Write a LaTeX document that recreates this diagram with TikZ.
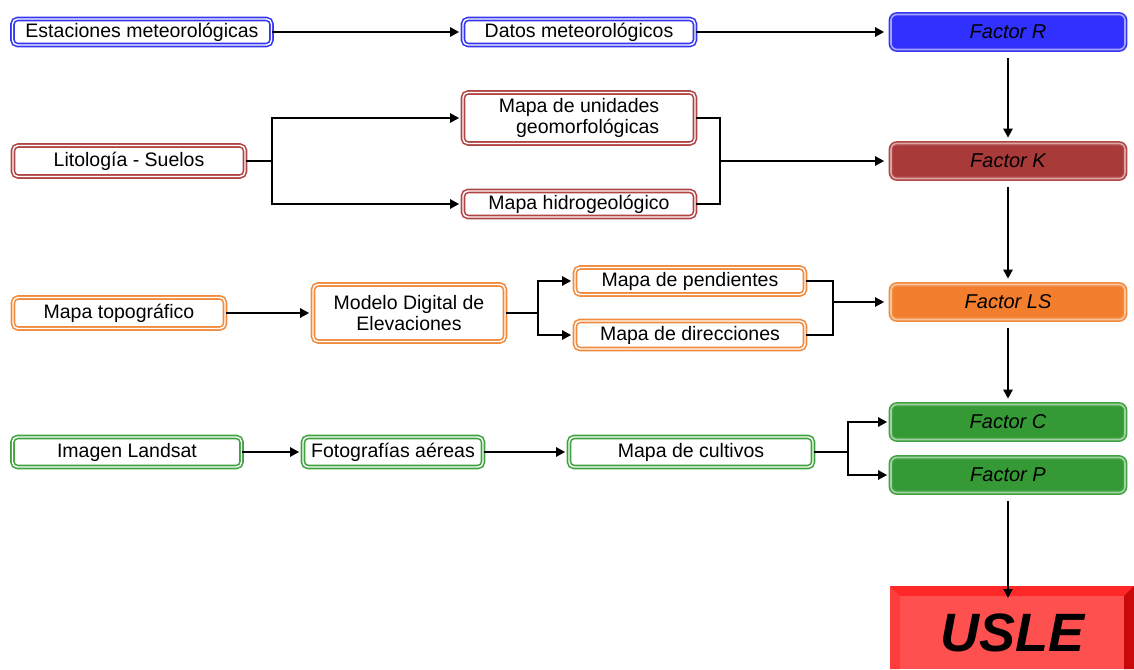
\documentclass[tikz,border=0pt]{standalone}
\usepackage{fontspec}
\setmainfont{Liberation Sans}
\usetikzlibrary{arrows.meta}
\definecolor{cblue}{HTML}{3535F0}
\definecolor{cred}{HTML}{B04545}
\definecolor{cora}{HTML}{F08A3C}
\definecolor{cgre}{HTML}{3FA23F}
\definecolor{fblue}{HTML}{3030FF}
\definecolor{fred}{HTML}{A83A3A}
\definecolor{fora}{HTML}{F27E2E}
\definecolor{fgre}{HTML}{359A35}
\definecolor{ubase}{RGB}{240,20,20}
\definecolor{utop}{RGB}{255,40,40}
\definecolor{uleft}{RGB}{255,60,60}
\definecolor{uright}{RGB}{200,10,10}
\definecolor{uface}{RGB}{255,80,80}
\tikzset{
  wbox/.style={draw=#1, double=white, double distance=1.4pt, line width=1.6pt,
    rounded corners=5pt, fill=white, inner sep=0pt, font=\fontsize{19.5}{21}\selectfont, align=center},
  fbox/.style 2 args={draw=#1, double=#2!45!white, double distance=1.6pt, line width=1.6pt,
    rounded corners=6pt, fill=#2, inner sep=0pt, minimum width=234pt, minimum height=35pt,
    font=\fontsize{20}{22}\selectfont\itshape},
  ln/.style={line width=2.6pt, black},
  arr/.style={ln, -{Triangle[length=9pt,width=9pt]}}
}
\begin{document}
\begin{tikzpicture}[x=1pt,y=-1pt]
\useasboundingbox (0,0) rectangle (1134,669);
% row 1
\node[wbox=cblue, minimum width=259pt, minimum height=26pt] (est) at (142,32) {Estaciones meteorológicas};
\node[wbox=cblue, minimum width=232pt, minimum height=26pt] (dat) at (579,32) {Datos meteorológicos};
\node[fbox={cblue}{fblue}] (fr) at (1008,32) {Factor R};
% row 2
\node[wbox=cred, minimum width=232pt, minimum height=31pt] (lit) at (129,161) {Litología - Suelos};
\node[wbox=cred, minimum width=232pt, minimum height=51pt, align=right] (geo) at (579,118) {Mapa de unidades\\geomorfológicas};
\node[wbox=cred, minimum width=232pt, minimum height=26pt] (hid) at (579,204) {Mapa hidrogeológico};
\node[fbox={cred}{fred}] (fk) at (1008,161) {Factor K};
% row 3
\node[wbox=cora, minimum width=212pt, minimum height=31pt] (top) at (119,313) {Mapa topográfico};
\node[wbox=cora, minimum width=192pt, minimum height=57pt] (mde) at (409,313) {Modelo Digital de\\Elevaciones};
\node[wbox=cora, minimum width=230pt, minimum height=27pt] (pen) at (690,281) {Mapa de pendientes};
\node[wbox=cora, minimum width=230pt, minimum height=28pt] (dir) at (690,335) {Mapa de direcciones};
\node[fbox={cora}{fora}] (fls) at (1008,302) {Factor LS};
% row 4
\node[wbox=cgre, minimum width=229pt, minimum height=30pt] (lan) at (127,452) {Imagen Landsat};
\node[wbox=cgre, minimum width=180pt, minimum height=30pt] (fot) at (393,452) {Fotografías aéreas};
\node[wbox=cgre, minimum width=244pt, minimum height=30pt] (cul) at (691,452) {Mapa de cultivos};
\node[fbox={cgre}{fgre}] (fc) at (1008,422) {Factor C};
\node[fbox={cgre}{fgre}] (fp) at (1008,475) {Factor P};
% USLE
\fill[ubase] (890,586) rectangle (1134,669);
\fill[utop] (890,586) -- (1134,586) -- (1124,596) -- (900,596) -- cycle;
\fill[uleft] (890,586) -- (900,596) -- (900,669) -- (890,669) -- cycle;
\fill[uright] (1134,586) -- (1124,596) -- (1124,669) -- (1134,669) -- cycle;
\node[fill=uface, minimum width=224pt, minimum height=73pt, inner sep=0pt,
  font=\fontsize{54}{58}\selectfont\bfseries\itshape, anchor=north west] (usle) at (900,596) {USLE};
% connectors
\draw[arr] (est.east) -- ([xshift=-3pt]dat.west);
\draw[arr] (dat.east) -- ([xshift=-6pt]fr.west);
\draw[arr] ([yshift=-8pt]fr.south) -- ([yshift=5pt]fk.north);
\coordinate (s1) at (272,161);
\draw[ln] (lit.east) -- (s1);
\draw[arr] (s1) |- ([xshift=-3pt]geo.west);
\draw[arr] (s1) |- ([xshift=-3pt]hid.west);
\coordinate (j1) at (720,161);
\draw[ln] (geo.east) -| (j1);
\draw[ln] (hid.east) -| (j1);
\draw[arr] (j1) -- ([xshift=-6pt]fk.west);
\draw[arr] ([yshift=-8pt]fk.south) -- ([yshift=5pt]fls.north);
\draw[arr] (top.east) -- ([xshift=-3pt]mde.west);
\coordinate (s2) at (538,313);
\draw[ln] (mde.east) -- (s2);
\draw[arr] (s2) |- ([xshift=-3pt]pen.west);
\draw[arr] (s2) |- ([xshift=-3pt]dir.west);
\coordinate (j2) at (833,302);
\draw[ln] (pen.east) -| (j2);
\draw[ln] (dir.east) -| (j2);
\draw[arr] (j2) -- ([xshift=-6pt]fls.west);
\draw[arr] ([yshift=-8pt]fls.south) -- ([yshift=5pt]fc.north);
\draw[arr] (lan.east) -- ([xshift=-3pt]fot.west);
\draw[arr] (fot.east) -- ([xshift=-3pt]cul.west);
\coordinate (s3) at (848,452);
\draw[ln] (cul.east) -- (s3);
\draw[arr] (s3) |- ([xshift=-3pt]fc.west);
\draw[arr] (s3) |- ([xshift=-3pt]fp.west);
\draw[arr] ([yshift=-8pt]fp.south) -- ([yshift=-2pt]usle.north -| fp.south);
\end{tikzpicture}
\end{document}
